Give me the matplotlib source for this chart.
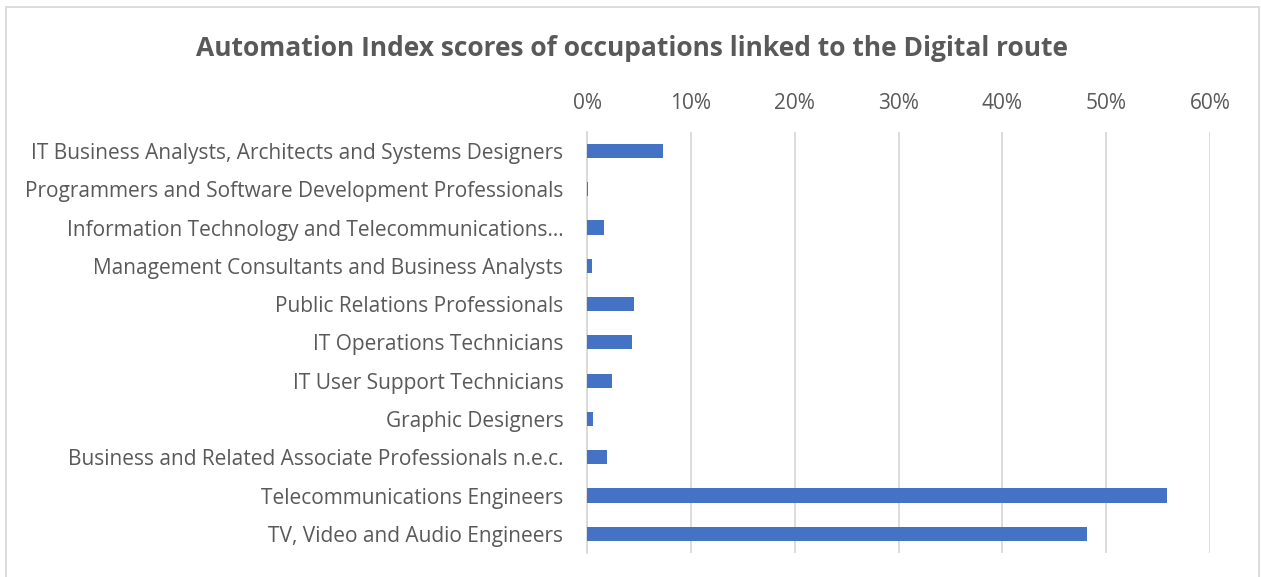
import matplotlib.pyplot as plt
from matplotlib.ticker import PercentFormatter
from matplotlib.patches import Rectangle

plt.rcParams['font.family'] = ['Open Sans', 'DejaVu Sans']

# occupations, top to bottom as shown
occupations = [
    "IT Business Analysts, Architects and Systems Designers",
    "Programmers and Software Development Professionals",
    "Information Technology and Telecommunications\u2026",
    "Management Consultants and Business Analysts",
    "Public Relations Professionals",
    "IT Operations Technicians",
    "IT User Support Technicians",
    "Graphic Designers",
    "Business and Related Associate Professionals n.e.c.",
    "Telecommunications Engineers",
    "TV, Video and Audio Engineers",
]
# automation index score (fraction)
scores = [0.073, 0.001, 0.016, 0.0045, 0.045, 0.043, 0.024, 0.006, 0.019, 0.559, 0.482]

grey = "#595959"

fig = plt.figure(figsize=(12.61, 5.77), dpi=100)
ax = fig.add_axes([587 / 1261, 1 - 553 / 577, (1210 - 587) / 1261, (553 - 131.8) / 577])

ypos = list(range(len(occupations)))
ax.barh(ypos, scores, height=0.37, color="#4472C4", zorder=3)
ax.set_yticks(ypos)
ax.set_yticklabels(occupations)
ax.set_ylim(len(occupations) - 0.5, -0.5)

ax.set_xlim(0, 0.6)
ax.set_xticks([0, 0.1, 0.2, 0.3, 0.4, 0.5, 0.6])
ax.xaxis.set_major_formatter(PercentFormatter(1.0, decimals=0))
ax.xaxis.tick_top()
ax.grid(axis="x", color="#d9d9d9", linewidth=1.3, zorder=0)
ax.tick_params(length=0, labelsize=15, colors=grey)
ax.tick_params(axis="y", pad=17)
ax.tick_params(axis="x", pad=13)

for s in ["top", "right", "bottom"]:
    ax.spines[s].set_visible(False)
ax.spines["left"].set_color("#d9d9d9")
ax.spines["left"].set_linewidth(1.3)

fig.text(632 / 1261, 1 - 49 / 577, "Automation Index scores of occupations linked to the Digital route",
         ha="center", va="center", fontsize=19, fontweight="bold", color=grey)

# chart border
fig.patches.append(Rectangle((6 / 1261, -0.01), (1259 - 6) / 1261, 1 - 7 / 577 + 0.01,
                             transform=fig.transFigure, fill=False, edgecolor="#d9d9d9", linewidth=1.3))

plt.savefig("out.png")
plt.close()
